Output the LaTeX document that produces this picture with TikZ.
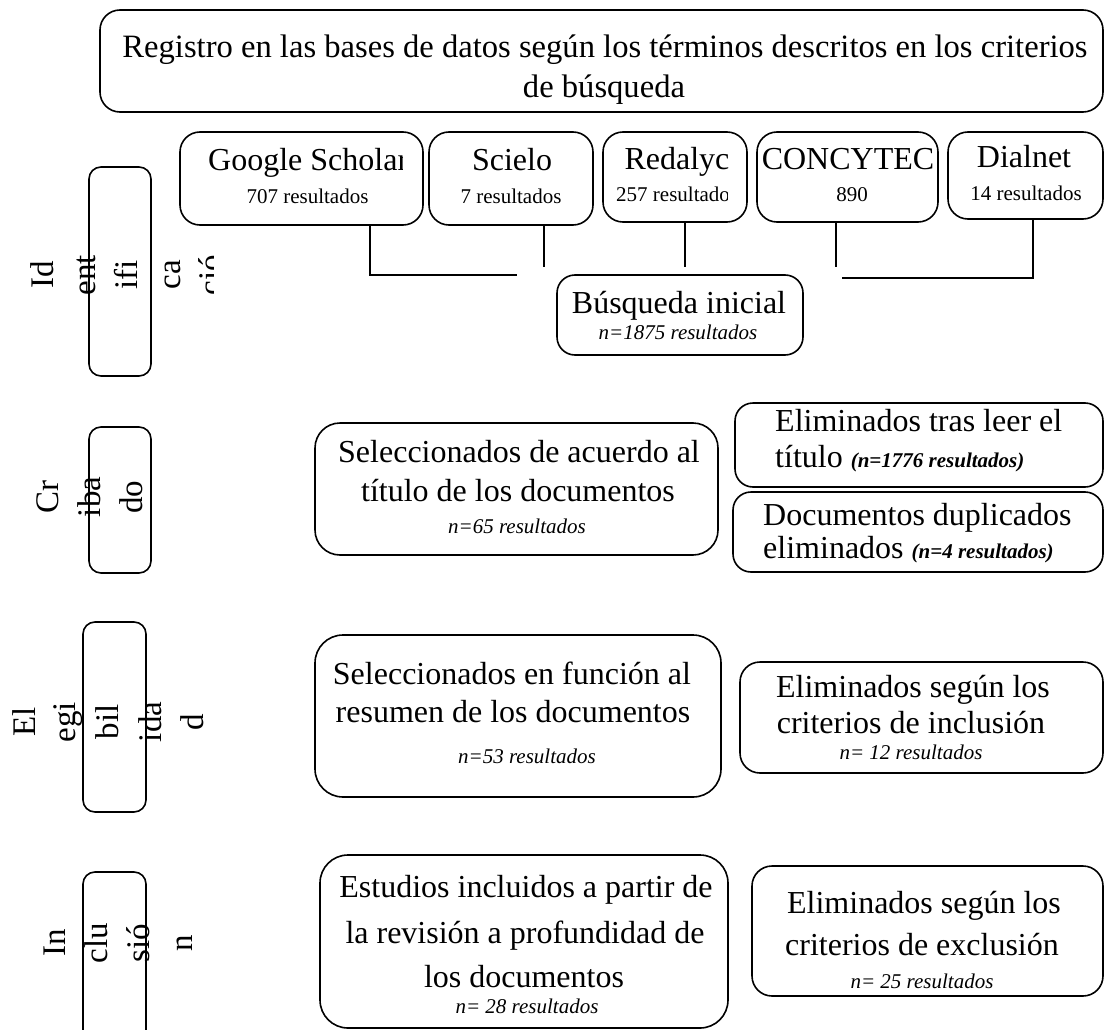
\documentclass[tikz,border=0pt]{standalone}
\usepackage{fontspec}
\setmainfont{Liberation Serif}
\begin{document}
\begin{tikzpicture}[x=1pt,y=-1pt,
  box/.style={draw, line width=1.6pt, rounded corners=#1, inner sep=0pt},
  box/.default=18,
  big/.style={font=\fontsize{32}{36}\selectfont, inner sep=0pt, anchor=base},
  sm/.style={font=\fontsize{21}{24}\selectfont, inner sep=0pt, anchor=base},
  itl/.style={font=\fontsize{21}{24}\selectfont\itshape, inner sep=0pt, anchor=base},
  lab/.style={font=\fontsize{33}{36}\selectfont, inner sep=0pt, anchor=base, rotate=90},
  ln/.style={line width=2pt}]
\fill[white] (0,0) rectangle (1105,1030);
\clip (0,0) rectangle (1105,1030);

% top box
\node[box=20, minimum width=1003, minimum height=102] (reg) at (601.5,61) {};
\node[big, font=\fontsize{32.6}{36}\selectfont] (reg1) at (605,58) {Registro en las bases de datos según los términos descritos en los criterios};
\node[big, font=\fontsize{32.6}{36}\selectfont] (reg2) at (604,98) {de búsqueda};

% database boxes
\node[box=20, minimum width=243, minimum height=93] (gs) at (301.5,178.5) {};
\begin{scope}
\clip (180,130) rectangle (402,230);
\node[big, anchor=base west] (gs1) at (208,170) {Google Scholar};
\end{scope}
\node[sm] (gs2) at (307.5,203) {707 resultados};

\node[box=20, minimum width=164, minimum height=93] (sc) at (511,178.5) {};
\node[big] (sc1) at (512,170) {Scielo};
\node[sm] (sc2) at (511,203) {7 resultados};

\node[box=20, minimum width=144, minimum height=90] (rd) at (675,177) {};
\node[big] (rd1) at (677,169) {Redalyc};
\begin{scope}
\clip (603,130) rectangle (727,230);
\node[sm, anchor=base west] (rd2) at (616,201) {257 resultados};
\end{scope}

\node[box=20, minimum width=181, minimum height=90] (cy) at (847.5,177) {};
\node[big] (cy1) at (848,169) {CONCYTEC};
\node[sm] (cy2) at (852,201) {890};

\node[box=20, minimum width=155, minimum height=87] (dl) at (1025.5,175.5) {};
\node[big] (dl1) at (1024,167) {Dialnet};
\node[sm] (dl2) at (1026,200) {14 resultados};

% connectors
\coordinate (gsx) at (370,275);
\coordinate (gse) at (517,275);
\draw[ln] (gs.south -| gsx) |- (gse);
\coordinate (sce) at (544,267);
\draw[ln] (sc.south -| sce) -- (sce);
\coordinate (rde) at (685,267);
\draw[ln] (rd.south -| rde) -- (rde);
\coordinate (cye) at (836,267);
\draw[ln] (cy.south -| cye) -- (cye);
\coordinate (dlx) at (1033,278);
\coordinate (dle) at (842,278);
\draw[ln] (dl.south -| dlx) |- (dle);

% busqueda inicial
\node[box=18, minimum width=246, minimum height=80] (bi) at (680,315) {};
\node[big] (bi1) at (679,313) {Búsqueda inicial};
\node[itl] (bi2) at (678,339) {n=1875 resultados};

% left phase boxes
\node[box=12, minimum width=62, minimum height=209] (ph1) at (120,271.5) {};
\node[lab] (ph1a) at (53,275) {Id};
\node[lab] (ph1b) at (95,275) {ent};
\node[lab] (ph1c) at (137,275) {ifi};
\node[lab] (ph1d) at (180,275) {ca};
\begin{scope}
\clip (190,240) rectangle (213,310);
\node[lab] (ph1e) at (221,275) {ció};
\end{scope}

\node[box=12, minimum width=62, minimum height=146] (ph2) at (120,500) {};
\node[lab] (ph2a) at (58,497) {Cr};
\node[lab] (ph2b) at (100,497) {iba};
\node[lab] (ph2c) at (142,497) {do};

\node[box=12, minimum width=63, minimum height=190] (ph3) at (114.5,717) {};
\node[lab] (ph3a) at (35,722) {El};
\node[lab] (ph3b) at (75,722) {egi};
\node[lab] (ph3c) at (118,722) {bil};
\node[lab] (ph3d) at (161,722) {ida};
\node[lab] (ph3e) at (203,722) {d};

\node[box=12, minimum width=63, minimum height=170] (ph4) at (114.5,957) {};
\node[lab] (ph4a) at (65,943) {In};
\node[lab] (ph4b) at (107,943) {clu};
\node[lab] (ph4c) at (149,943) {sió};
\node[lab] (ph4d) at (192,943) {n};

% cribado row
\node[box=25, minimum width=403, minimum height=132] (s1) at (516.5,489) {};
\node[big] (s1a) at (519,462) {Seleccionados de acuerdo al};
\node[big] (s1b) at (518,501) {título de los documentos};
\node[itl] (s1c) at (517,533) {n=65 resultados};

\node[box=18, minimum width=368, minimum height=84] (e1) at (919,445) {};
\node[big, anchor=base west] (e1a) at (775,431) {Eliminados tras leer el};
\node[big, anchor=base west] (e1b) at (775,467) {título {\fontsize{21}{24}\selectfont\bfseries\itshape (n=1776 resultados)}};

\node[box=18, minimum width=370, minimum height=80] (d1) at (918,532) {};
\node[big, anchor=base west] (d1a) at (763,525) {Documentos duplicados};
\node[big, anchor=base west] (d1b) at (763,558) {eliminados {\fontsize{21}{24}\selectfont\bfseries\itshape (n=4 resultados)}};

% elegibilidad row
\node[box=28, minimum width=406, minimum height=162] (s2) at (518,716) {};
\node[big] (s2a) at (512,684) {Seleccionados en función al};
\node[big] (s2b) at (513,722) {resumen de los documentos};
\node[itl] (s2c) at (527,763) {n=53 resultados};

\node[box=20, minimum width=363, minimum height=111] (e2) at (921.5,717.5) {};
\node[big] (e2a) at (913,697) {Eliminados según los};
\node[big] (e2b) at (911,733) {criterios de inclusión};
\node[itl] (e2c) at (911,759) {n= 12 resultados};

% inclusion row
\node[box=28, minimum width=408, minimum height=173] (s3) at (524,941.5) {};
\node[big] (s3a) at (526,897) {Estudios incluidos a partir de};
\node[big] (s3b) at (525,943) {la revisión a profundidad de};
\node[big] (s3c) at (524,987) {los documentos};
\node[itl] (s3d) at (527,1013) {n= 28 resultados};

\node[box=20, minimum width=351, minimum height=130] (e3) at (927.5,931) {};
\node[big] (e3a) at (924,913) {Eliminados según los};
\node[big] (e3b) at (922,955) {criterios de exclusión};
\node[itl] (e3c) at (922,988) {n= 25 resultados};
\end{tikzpicture}
\end{document}
